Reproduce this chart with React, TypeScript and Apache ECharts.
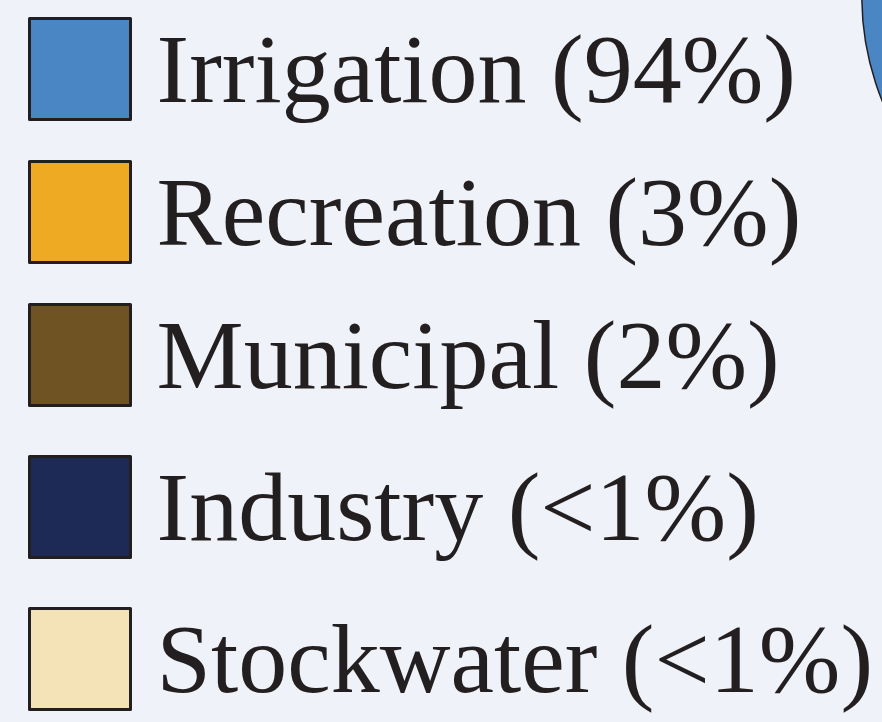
import React, { useEffect, useRef } from "react";
import * as echarts from "echarts";

const categories = ["Irrigation", "Recreation", "Municipal", "Industry", "Stockwater"];
const shareLabels = ["94%", "3%", "2%", "<1%", "<1%"];
const values = [94, 3, 2, 0.5, 0.5];
const colors = ["#4a86c4", "#eeaa22", "#6f5322", "#1e2a56", "#f4e3b7"];
const legendTops = [17, 160, 303, 455, 607];

export default function App() {
  const ref = useRef<HTMLDivElement>(null);
  useEffect(() => {
    if (!ref.current) return;
    const chart = echarts.init(ref.current, undefined, { renderer: "svg" });
    const names = categories.map((c, i) => `${c} (${shareLabels[i]})`);
    chart.setOption({
      animation: false,
      backgroundColor: "#eff3f9",
      color: colors,
      legend: names.map((n, i) => ({
        data: [n],
        left: 28,
        top: legendTops[i],
        padding: 0,
        icon: "rect",
        itemWidth: 101,
        itemHeight: 101,
        selectedMode: false,
        itemStyle: { borderColor: "#231f20", borderWidth: 3 },
        textStyle: {
          fontFamily: "Liberation Serif",
          fontSize: 98,
          color: "#231f20",
          lineHeight: 81,
          padding: [0, 0, 20, 21],
        },
      })),
      series: [
        {
          type: "pie",
          center: [1140, -3],
          radius: 278,
          startAngle: 90,
          label: { show: false },
          labelLine: { show: false },
          itemStyle: { borderColor: "#231f20", borderWidth: 1.5 },
          data: names.map((n, i) => ({ name: n, value: values[i] })),
        },
      ],
    });
    return () => chart.dispose();
  }, []);
  return <div ref={ref} style={{ width: 882, height: 722, position: "absolute", left: 0, top: 0 }} />;
}
